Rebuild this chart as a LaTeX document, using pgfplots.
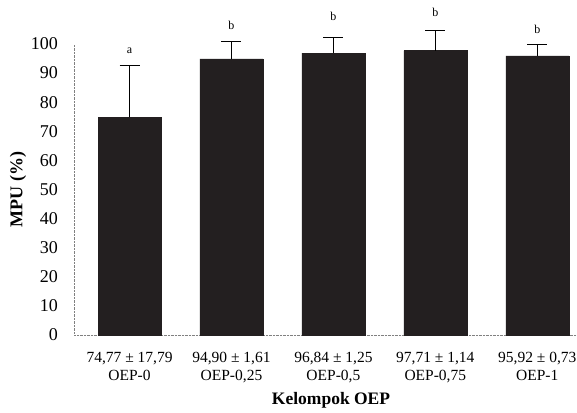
\documentclass[border=0pt]{standalone}
\usepackage{fontspec}
\setmainfont{Liberation Serif}
\usepackage{pgfplots}
\pgfplotsset{compat=1.18}
\definecolor{barcol}{RGB}{35,31,32}
\begin{document}
\begin{tikzpicture}
\useasboundingbox (-74pt,-77pt) rectangle (503pt,335pt);
\begin{axis}[
  at={(0,0)}, anchor=south west,
  scale only axis, width=503pt, height=291pt,
  xmin=-0.545, xmax=4.39, ymin=0, ymax=100,
  clip=false,
  axis x line=bottom, axis y line=left,
  axis line style={gray, densely dotted, thin, -},
  major tick length=0pt,
  ytick={0,10,...,100},
  xtick={0,1,2,3,4},
  xticklabels={{74,77 ± 17,79\\OEP-0},{94,90 ± 1,61\\OEP-0,25},{96,84 ± 1,25\\OEP-0,5},{97,71 ± 1,14\\OEP-0,75},{95,92 ± 0,73\\OEP-1}},
  /pgf/number format/assume math mode=true,
  yticklabel style={font=\fontsize{18}{20}\selectfont, anchor=east, inner sep=0pt, xshift=-16pt},
  xticklabel style={font=\fontsize{15.5}{18}\selectfont, align=center, anchor=north, inner sep=0pt, yshift=-17pt},
  ylabel={MPU (\%)},
  xlabel={Kelompok OEP},
  every axis y label/.style={at={(axis description cs:0,0.5)}, xshift=-56pt, rotate=90, anchor=center, font=\fontsize{18}{20}\selectfont\bfseries},
  every axis x label/.style={at={(axis description cs:0.511,0)}, anchor=center, yshift=-65pt, font=\fontsize{17.5}{20}\selectfont\bfseries},
]
\addplot[ybar, bar width=63pt, fill=barcol, draw=barcol,
  error bars/.cd, y dir=plus, y explicit,
  error bar style={black, line width=1pt},
  error mark options={rotate=90, mark size=10pt, line width=1pt, black}]
  coordinates {
  (0,74.77) +- (0,17.9)
  (1,94.90) +- (0,5.8)
  (2,96.84) +- (0,5.5)
  (3,97.71) +- (0,6.8)
  (4,95.92) +- (0,3.8)
  };
\addplot[draw=none, mark=none, nodes near coords, point meta=explicit symbolic,
  nodes near coords align=center,
  every node near coord/.append style={font=\fontsize{12}{14}\selectfont, anchor=center, inner sep=0pt}]
  coordinates {
  (0,97.6)[a]
  (1,106.3)[b]
  (2,109.4)[b]
  (3,110.9)[b]
  (4,105.1)[b]
  };
\end{axis}
\end{tikzpicture}
\end{document}
